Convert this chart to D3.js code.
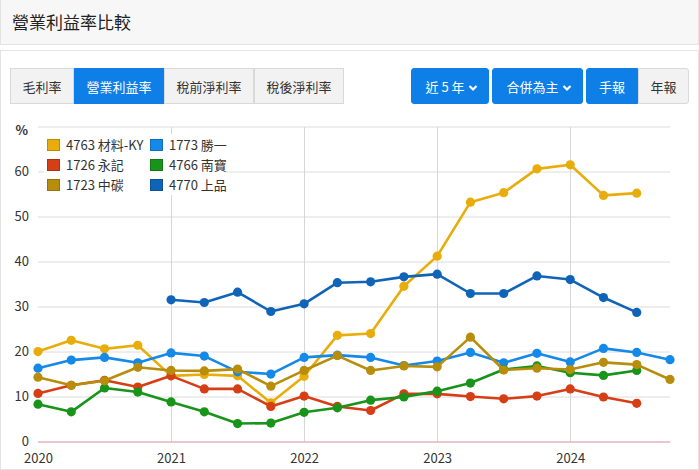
<!DOCTYPE html>
<html><head><meta charset="utf-8">
<script src="https://cdn.jsdelivr.net/npm/d3@7"></script>
<style>
body{margin:0;background:#fff;font-family:"Noto Sans CJK TC","Noto Sans",sans-serif;}
#wrap{position:relative;width:699px;height:470px;overflow:hidden;}
#hdr{position:absolute;left:0;top:0;width:697px;height:44px;background:#f7f7f7;border:1px solid #e3e3e3;border-top:none;}
#hdr span{position:absolute;left:11px;top:9px;font-size:17px;color:#222;}
#panel{position:absolute;left:0;top:50px;width:697px;height:418px;border:1px solid #e3e3e3;border-top:1px solid #e6e6e6;}
.btn{position:absolute;top:68px;height:36px;line-height:36px;font-size:13px;text-align:center;box-sizing:border-box;color:#333;background:#f2f2f2;border:1px solid #d9d9d9;}
.btn.on{background:#0d7fe6;color:#fff;border-color:#0d7fe6;}
svg{position:absolute;left:0;top:0;}
</style></head><body>
<div id="wrap">
<div id="hdr"><span>營業利益率比較</span></div>
<div id="panel"></div>
<div id="btns"></div>
<svg id="chart" width="699" height="470"></svg>
</div>
<script>
const quarters = d3.range(20).map(i => 2020 + i * 0.25);
const seriesNames = ["4763 材料-KY", "1773 勝一", "1726 永記", "4766 南寶", "1723 中碳", "4770 上品"];
const seriesColors = ["#e8ad0a", "#1589e8", "#d63e15", "#179419", "#b88d0c", "#1064b8"];
const s4763 = [20.1,22.6,20.7,21.5,14.7,15.0,14.7,8.7,14.6,23.7,24.1,34.6,41.3,53.3,55.4,60.7,61.6,54.8,55.3,null];
const s1773 = [16.4,18.2,18.8,17.6,19.8,19.1,15.6,15.1,18.8,19.3,18.8,17.0,18.0,19.9,17.6,19.7,17.8,20.8,19.9,18.3];
const s1726 = [10.8,12.6,13.7,12.2,14.7,11.8,11.8,7.9,10.2,7.9,7.0,10.7,10.7,10.1,9.6,10.2,11.8,10.0,8.6,null];
const s4766 = [8.4,6.7,12.0,11.1,8.9,6.7,4.1,4.2,6.6,7.6,9.3,10.0,11.3,13.1,16.1,16.9,15.4,14.8,15.9,null];
const s1723 = [14.4,12.6,13.6,16.6,15.9,15.8,16.2,12.4,15.9,19.2,15.9,16.9,16.7,23.3,16.0,16.4,16.1,17.7,17.2,13.9];
const s4770 = [null,null,null,null,31.6,31.0,33.3,29.0,30.7,35.4,35.6,36.7,37.3,33.0,33.0,36.9,36.1,32.1,28.8,null];
const allSeries = [s4763, s1773, s1726, s4766, s1723, s4770];
const yTicks = [0,10,20,30,40,50,60];
const xTicks = [2020,2021,2022,2023,2024];
const leftButtons = ["毛利率","營業利益率","稅前淨利率","稅後淨利率"];
const rightButtons = ["近 5 年","合併為主","手報","年報"];

// buttons
const bl = [[10,64,false],[74,90,true],[164,90,false],[254,90,false]];
const br = [[411,78,true],[492,91,true],[586,52,true],[638,51,false]];
const btns = d3.select("#btns");
leftButtons.forEach((t,i)=>{
  btns.append("div").attr("class","btn"+(bl[i][2]?" on":"")).style("left",bl[i][0]+"px").style("width",bl[i][1]+"px").text(t);
});
rightButtons.forEach((t,i)=>{
  const d = btns.append("div").attr("class","btn"+(br[i][2]?" on":"")).style("left",br[i][0]+"px").style("width",br[i][1]+"px")
   .style("border-radius", i<2 ? "3px" : (i==2 ? "3px 0 0 3px" : "0 3px 3px 0"));
  d.append("span").text(t);
  if(i<2) d.append("span").html('<svg width="10" height="8" style="position:relative;left:3px;top:0px;display:inline;" viewBox="0 0 10 8"><path d="M1.5 2 L5 5.5 L8.5 2" stroke="#fff" stroke-width="2.2" fill="none"/></svg>');
});

const svg = d3.select("#chart");
const x = d3.scaleLinear().domain([2020, 2024.75]).range([38, 670]);
const y = d3.scaleLinear().domain([0, 70]).range([442, 127]);
const font = '"Noto Sans CJK TC","Noto Sans",sans-serif';

// grid
const g = svg.append("g");
[10,20,30,40,50,60,70].forEach(v=>{
  g.append("line").attr("x1",38).attr("x2",670).attr("y1",y(v)).attr("y2",y(v)).attr("stroke","#dcdcdc").attr("stroke-width",1);
});
xTicks.slice(1).forEach(v=>{
  g.append("line").attr("x1",Math.round(x(v))+0.5).attr("x2",Math.round(x(v))+0.5).attr("y1",127).attr("y2",442).attr("stroke","#d6d6d6").attr("stroke-width",1);
});
g.append("line").attr("x1",38).attr("x2",670).attr("y1",y(0)).attr("y2",y(0)).attr("stroke","#e6b3b8").attr("stroke-width",1.5);

// axis labels
const yAxis = d3.axisLeft(y).tickValues(yTicks).tickSize(0).tickPadding(0);
const ya = svg.append("g").attr("transform","translate(29,0)").call(yAxis);
ya.select(".domain").remove();
ya.selectAll("text").attr("font-size",13).attr("font-family",font).attr("fill","#333").attr("dy","0.3em");
svg.append("text").attr("x",28).attr("y",135).attr("text-anchor","end").attr("font-size",13).attr("font-weight","bold").attr("fill","#333").attr("font-family",font).text("%");

const xAxis = d3.axisBottom(x).tickValues(xTicks).tickFormat(d3.format("d")).tickSize(0).tickPadding(0);
const xa = svg.append("g").attr("transform","translate(0,463)").call(xAxis);
xa.select(".domain").remove();
xa.selectAll("text").attr("font-size",13).attr("font-family",font).attr("fill","#333").attr("y",0).attr("dy","0");

// lines
const line = d3.line().defined(d=>d!=null).x((d,i)=>x(quarters[i])).y(d=>y(d));
allSeries.forEach((s,k)=>{
  const sg = svg.append("g");
  sg.append("path").datum(s).attr("d",line).attr("fill","none").attr("stroke",seriesColors[k]).attr("stroke-width",2.6).attr("stroke-linejoin","round");
  sg.selectAll("circle").data(s.map((v,i)=>({v,i})).filter(d=>d.v!=null)).enter().append("circle")
    .attr("cx",d=>x(quarters[d.i])).attr("cy",d=>y(d.v)).attr("r",4.6).attr("fill",seriesColors[k]);
});

// legend
const lg = svg.append("g");
lg.append("rect").attr("x",44).attr("y",134).attr("width",182).attr("height",61).attr("fill","#fff");
seriesNames.forEach((n,k)=>{
  const col = k%2, row = Math.floor(k/2);
  const lx = col==0 ? 47 : 150, ly = 139 + row*20;
  lg.append("rect").attr("x",lx+0.5).attr("y",ly+0.5).attr("width",12).attr("height",11).attr("fill",seriesColors[k]).attr("stroke",d3.color(seriesColors[k]).darker(0.6)).attr("stroke-width",1);
  lg.append("text").attr("x",lx+19).attr("y",ly+6).attr("dy","0.35em").attr("font-size",13).attr("font-family",font).attr("fill","#333").text(n);
});
</script>
</body></html>
